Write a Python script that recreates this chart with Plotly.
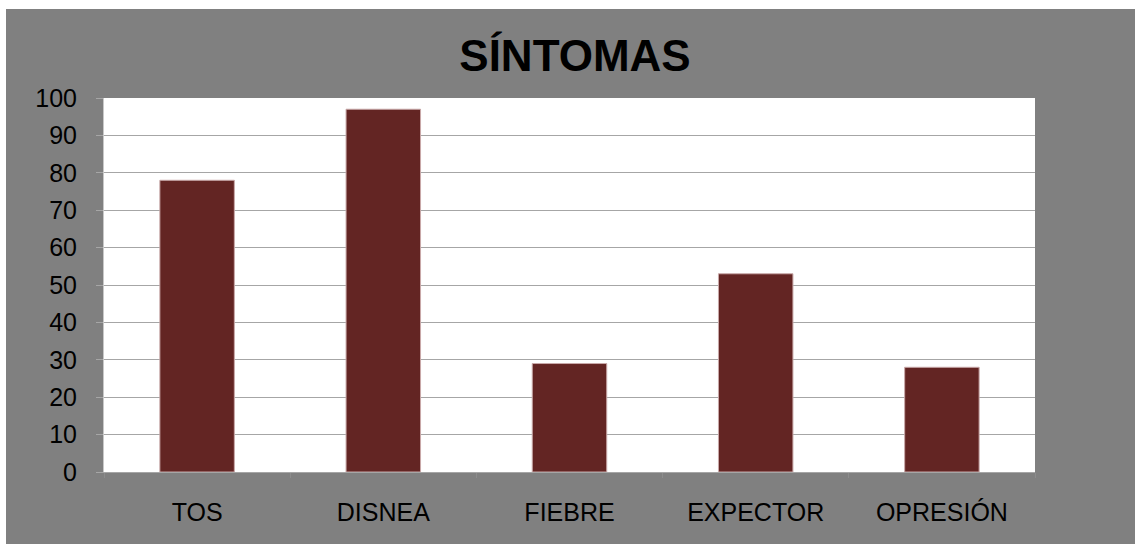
import plotly.graph_objects as go

# Síntomas registrados (porcentaje de pacientes)
categorias = ["TOS", "DISNEA", "FIEBRE", "EXPECTOR", "OPRESIÓN"]
valores = [78, 97, 29, 53, 28]
ticks_y = [0, 10, 20, 30, 40, 50, 60, 70, 80, 90, 100]

W, H = 1135, 544
L, R, T, B = 104, 100, 98, 72
pw, ph = W - L - R, H - T - B

def px_x(px):
    return (px - L) / pw

def px_y(py):
    return (H - B - py) / ph

fig = go.Figure(
    go.Bar(
        x=categorias,
        y=valores,
        marker=dict(color="#632523", line=dict(color="#c9a9a9", width=1)),
        width=0.4,
        hoverinfo="x+y",
    )
)

fig.update_layout(
    width=W,
    height=H,
    margin=dict(l=L, r=R, t=T, b=B),
    paper_bgcolor="white",
    plot_bgcolor="rgba(0,0,0,0)",
    showlegend=False,
    font=dict(family="Liberation Sans, Arial, sans-serif", color="black", size=25),
    title=dict(
        text="<b>SÍNTOMAS</b>",
        x=px_x(575), xref="paper", xanchor="center",
        y=1 - 56 / H, yref="container", yanchor="middle",
        font=dict(size=44, color="black", family="Liberation Sans, Arial, sans-serif"),
    ),
    shapes=[
        # fondo gris del gráfico
        dict(type="rect", xref="paper", yref="paper", layer="below",
             x0=px_x(6), x1=px_x(W + 5), y0=px_y(H + 5), y1=px_y(9),
             fillcolor="#808080", line=dict(width=0)),
        # área de trazado blanca
        dict(type="rect", xref="paper", yref="paper", layer="below",
             x0=0, x1=1, y0=0, y1=1,
             fillcolor="white", line=dict(width=0)),
    ],
    xaxis=dict(
        showgrid=False,
        showline=True, linecolor="#a6a6a6", linewidth=1,
        ticks="outside", tickson="boundaries", ticklen=5, tickcolor="#8c8c8c",
        ticklabelstandoff=18,
        tickfont=dict(size=25),
        fixedrange=True,
    ),
    yaxis=dict(
        range=[0, 100],
        tickvals=ticks_y,
        showgrid=True, gridcolor="#a6a6a6", gridwidth=1,
        showline=True, linecolor="#c8c8c8", linewidth=1,
        ticks="outside", ticklen=7, tickcolor="#a6a6a6",
        ticklabelstandoff=14,
        tickfont=dict(size=25),
        zeroline=False,
        fixedrange=True,
    ),
)

fig.write_html("out.html")
